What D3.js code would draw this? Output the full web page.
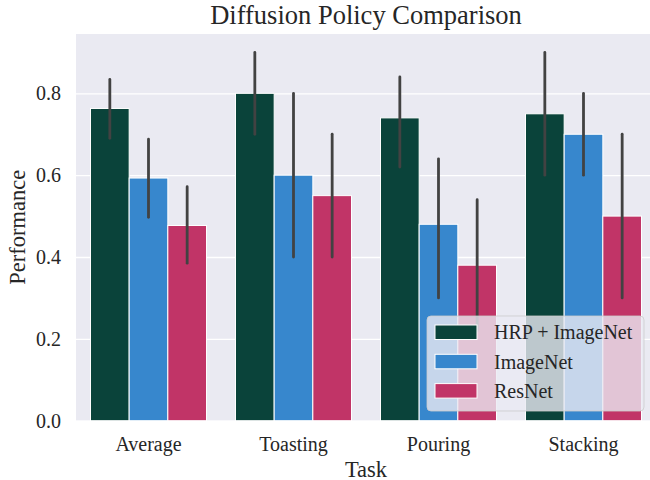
<!DOCTYPE html>
<html>
<head>
<meta charset="utf-8">
<script src="https://cdn.jsdelivr.net/npm/d3@7"></script>
<style>
  html, body { margin: 0; padding: 0; background: #ffffff; }
  svg { display: block; }
  text { font-family: "Liberation Serif", "Times New Roman", "DejaVu Serif", serif; fill: #262626; }
</style>
</head>
<body>
<svg id="chart" width="650" height="480"></svg>
<script>
const tasks = ["Average", "Toasting", "Pouring", "Stacking"];
const seriesNames = ["HRP + ImageNet", "ImageNet", "ResNet"];
const seriesColors = ["#0a433a", "#3787cd", "#c13467"];

const hrpValues      = [0.763, 0.80, 0.74, 0.75];
const hrpLow         = [0.690, 0.70, 0.62, 0.60];
const hrpHigh        = [0.834, 0.90, 0.84, 0.90];

const imagenetValues = [0.593, 0.60, 0.48, 0.70];
const imagenetLow    = [0.497, 0.40, 0.30, 0.60];
const imagenetHigh   = [0.688, 0.80, 0.64, 0.80];

const resnetValues   = [0.477, 0.55, 0.38, 0.50];
const resnetLow      = [0.385, 0.40, 0.22, 0.30];
const resnetHigh     = [0.572, 0.70, 0.54, 0.70];

const yTicks = [0.0, 0.2, 0.4, 0.6, 0.8];

const valuesBySeries = [hrpValues, imagenetValues, resnetValues];
const lowBySeries = [hrpLow, imagenetLow, resnetLow];
const highBySeries = [hrpHigh, imagenetHigh, resnetHigh];

const rows = [];
tasks.forEach((t, ti) => {
  seriesNames.forEach((s, si) => {
    rows.push({ task: t, series: s, si: si,
      value: valuesBySeries[si][ti], lo: lowBySeries[si][ti], hi: highBySeries[si][ti] });
  });
});

const svg = d3.select("#chart");
const plot = { left: 76, right: 656, top: 34, bottom: 420.7 };

const x = d3.scaleBand().domain(tasks).range([plot.left, plot.right])
  .paddingInner(0.2).paddingOuter(0.1);
const x1 = d3.scaleBand().domain(seriesNames).range([0, x.bandwidth()]);
const y = d3.scaleLinear().domain([0, 0.945]).range([plot.bottom, plot.top]);
const color = d3.scaleOrdinal().domain(seriesNames).range(seriesColors);

// background
svg.append("rect")
  .attr("x", plot.left).attr("y", plot.top)
  .attr("width", plot.right - plot.left).attr("height", plot.bottom - plot.top)
  .attr("fill", "#eaeaf2");

// grid + y labels
const yAxis = d3.axisLeft(y).tickValues(yTicks).tickFormat(d3.format(".1f"))
  .tickSize(-(plot.right - plot.left)).tickPadding(15);
const gy = svg.append("g").attr("transform", `translate(${plot.left},0)`).call(yAxis);
gy.select(".domain").remove();
gy.selectAll(".tick line").attr("stroke", "#ffffff").attr("stroke-width", 1.3);
gy.selectAll(".tick text").attr("font-size", 20).attr("fill", "#262626")
  .style("font-family", '"Liberation Serif", "Times New Roman", serif');

// x labels
const xAxis = d3.axisBottom(x).tickSize(0).tickPadding(16);
const gx = svg.append("g").attr("transform", `translate(0,${plot.bottom})`).call(xAxis);
gx.select(".domain").remove();
gx.selectAll(".tick text").attr("font-size", 20).attr("fill", "#262626")
  .style("font-family", '"Liberation Serif", "Times New Roman", serif');

// bars
svg.append("g").selectAll("rect").data(rows).join("rect")
  .attr("x", d => x(d.task) + x1(d.series))
  .attr("y", d => y(d.value))
  .attr("width", x1.bandwidth())
  .attr("height", d => y(0) - y(d.value))
  .attr("fill", d => color(d.series))
  .attr("stroke", "#ffffff").attr("stroke-width", 1);

// error bars
svg.append("g").selectAll("line").data(rows).join("line")
  .attr("x1", d => x(d.task) + x1(d.series) + x1.bandwidth() / 2)
  .attr("x2", d => x(d.task) + x1(d.series) + x1.bandwidth() / 2)
  .attr("y1", d => y(d.lo)).attr("y2", d => y(d.hi))
  .attr("stroke", "#424242").attr("stroke-width", 2.8).attr("stroke-linecap", "round");

// title & axis labels
svg.append("text").attr("x", (plot.left + plot.right) / 2).attr("y", 24)
  .attr("text-anchor", "middle").attr("font-size", 26.5).text("Diffusion Policy Comparison");
svg.append("text").attr("x", (plot.left + plot.right) / 2).attr("y", 476.5)
  .attr("text-anchor", "middle").attr("font-size", 22.5).text("Task");
svg.append("text").attr("transform", `translate(25,${(plot.top + plot.bottom) / 2}) rotate(-90)`)
  .attr("text-anchor", "middle").attr("font-size", 22.5).text("Performance");

// legend
const lg = svg.append("g");
lg.append("rect").attr("x", 427).attr("y", 316).attr("width", 217).attr("height", 95)
  .attr("rx", 4).attr("ry", 4)
  .attr("fill", "#eaeaf2").attr("fill-opacity", 0.8)
  .attr("stroke", "#cccccc").attr("stroke-opacity", 0.8).attr("stroke-width", 1);
const items = lg.selectAll("g.item").data(seriesNames).join("g").attr("class", "item")
  .attr("transform", (d, i) => `translate(435,${325 + i * 29.3})`);
items.append("rect").attr("width", 42).attr("height", 14.5)
  .attr("fill", d => color(d)).attr("stroke", "#ffffff").attr("stroke-width", 1);
items.append("text").attr("x", 59).attr("y", 14.3).attr("font-size", 20).text(d => d);
</script>
</body>
</html>
